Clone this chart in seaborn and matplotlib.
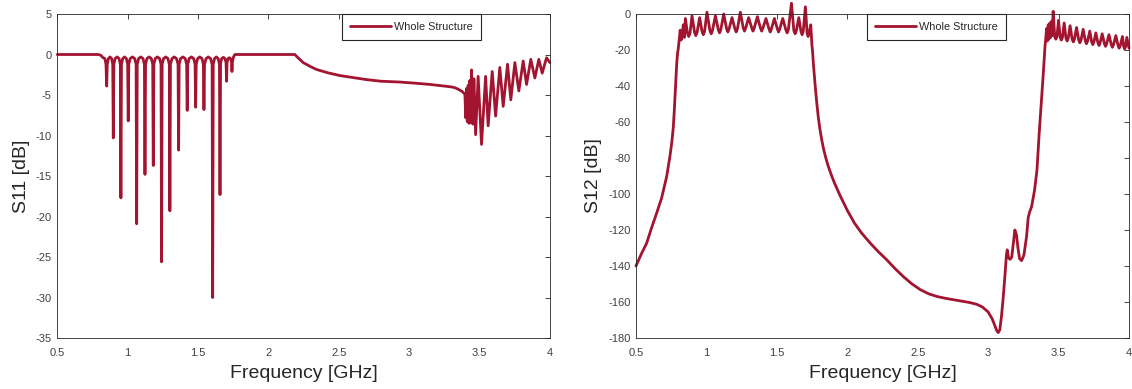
import matplotlib
matplotlib.use("Agg")
import matplotlib.pyplot as plt
import seaborn as sns

# ---------------- data ----------------
x_ticks = [0.5, 1.0, 1.5, 2.0, 2.5, 3.0, 3.5, 4.0]
x_tick_labels = ["0.5", "1", "1.5", "2", "2.5", "3", "3.5", "4"]
s11_ticks = [-35, -30, -25, -20, -15, -10, -5, 0, 5]
s12_ticks = [-180, -160, -140, -120, -100, -80, -60, -40, -20, 0]
series_name = "Whole Structure"

# S11 of the whole structure (frequency in GHz, magnitude in dB)
s11_freq = [
    0.50, 0.79, 0.81, 0.825, 0.838, 0.846,
    0.851, 0.855, 0.863, 0.8745, 0.886, 0.894,
    0.898, 0.902, 0.911, 0.925, 0.939, 0.948,
    0.952, 0.956, 0.965, 0.978, 0.991, 1.000,
    1.004, 1.008, 1.018, 1.034, 1.050, 1.060,
    1.064, 1.068, 1.078, 1.0935, 1.109, 1.119,
    1.123, 1.127, 1.137, 1.1525, 1.168, 1.178,
    1.182, 1.186, 1.196, 1.2115, 1.227, 1.237,
    1.241, 1.245, 1.255, 1.2705, 1.286, 1.296,
    1.300, 1.304, 1.315, 1.331, 1.347, 1.358,
    1.362, 1.366, 1.376, 1.3925, 1.409, 1.419,
    1.423, 1.427, 1.437, 1.453, 1.469, 1.479,
    1.483, 1.487, 1.497, 1.5125, 1.528, 1.538,
    1.542, 1.546, 1.557, 1.573, 1.589, 1.600,
    1.604, 1.608, 1.617, 1.630, 1.643, 1.652,
    1.656, 1.660, 1.668, 1.6795, 1.691, 1.699,
    1.703, 1.706, 1.713, 1.722, 1.731, 1.738,
    1.741, 1.745, 1.752, 1.762,
    2.188, 2.21, 2.247, 2.30, 2.342, 2.42, 2.508, 2.60, 2.697, 2.80,
    2.934, 3.05, 3.15, 3.25, 3.30, 3.325, 3.35, 3.375, 3.396,
    3.402, 3.407, 3.413, 3.419, 3.425, 3.431, 3.437, 3.443, 3.452, 3.460,
    3.472, 3.490, 3.514, 3.543, 3.561, 3.590, 3.614, 3.644, 3.668, 3.699,
    3.722, 3.751, 3.779, 3.810, 3.834, 3.864, 3.893, 3.921, 3.945, 3.976,
    4.0,
]
s11_db = [
    0.0, 0.0, -0.1, -0.4, -0.5, -1.2,
    -3.9, -1.2, -0.5, -0.3, -0.5, -1.2,
    -10.3, -1.2, -0.5, -0.3, -0.5, -1.2,
    -17.7, -1.2, -0.5, -0.3, -0.5, -1.2,
    -8.2, -1.2, -0.5, -0.3, -0.5, -1.2,
    -20.9, -1.2, -0.5, -0.3, -0.5, -1.2,
    -14.8, -1.2, -0.5, -0.3, -0.5, -1.2,
    -13.7, -1.2, -0.5, -0.3, -0.5, -1.2,
    -25.6, -1.2, -0.5, -0.3, -0.5, -1.2,
    -19.3, -1.2, -0.5, -0.3, -0.5, -1.2,
    -11.8, -1.2, -0.5, -0.3, -0.5, -1.2,
    -6.9, -1.2, -0.5, -0.3, -0.5, -1.2,
    -6.5, -1.2, -0.5, -0.3, -0.5, -1.2,
    -6.8, -1.2, -0.5, -0.3, -0.5, -1.2,
    -30.0, -1.2, -0.5, -0.3, -0.5, -1.2,
    -17.3, -1.1, -0.5, -0.35, -0.5, -1.0,
    -3.3, -1.0, -0.5, -0.4, -0.5, -0.9,
    -2.1, -0.8, -0.3, 0.0,
    0.0, -0.4, -1.0, -1.5, -1.85, -2.25, -2.6, -2.85, -3.1, -3.3,
    -3.4, -3.55, -3.7, -3.9, -4.0, -4.1, -4.3, -4.55, -4.9,
    -7.8, -4.2, -8.3, -3.8, -8.5, -3.2, -8.4, -1.9, -8.6, -3.0,
    -9.9, -2.7, -11.1, -2.7, -8.8, -2.1, -7.6, -1.6, -6.4, -1.2,
    -5.6, -1.0, -4.5, -0.8, -3.7, -0.6, -2.9, -0.6, -2.3, -0.4,
    -1.0,
]

# S12 of the whole structure (frequency in GHz, magnitude in dB)
s12_freq = [
    0.50, 0.54, 0.576, 0.61, 0.647, 0.682, 0.718, 0.741,
    0.755, 0.765, 0.772, 0.777, 0.783, 0.789, 0.795, 0.80,
    0.806, 0.814, 0.820, 0.828, 0.836, 0.843,
    0.851, 0.8655, 0.8745, 0.8835,
    0.898, 0.916, 0.925, 0.934,
    0.952, 0.969, 0.978, 0.987,
    1.004, 1.025, 1.034, 1.043,
    1.064, 1.0845, 1.0935, 1.1025,
    1.123, 1.1435, 1.1525, 1.1615,
    1.182, 1.2025, 1.2115, 1.2205,
    1.241, 1.2615, 1.2705, 1.2795,
    1.300, 1.322, 1.331, 1.340,
    1.362, 1.3835, 1.3925, 1.4015,
    1.423, 1.444, 1.453, 1.462,
    1.483, 1.5035, 1.5125, 1.5215,
    1.542, 1.564, 1.573, 1.582,
    1.604, 1.621, 1.630, 1.639,
    1.656, 1.6715, 1.6795, 1.6875,
    1.703, 1.715, 1.722, 1.729,
    1.741, 1.745, 1.749, 1.754, 1.760, 1.771, 1.782, 1.794,
    1.805, 1.818, 1.832, 1.848, 1.865, 1.885, 1.91, 1.95,
    2.0, 2.05, 2.10, 2.16, 2.22, 2.28, 2.34, 2.40,
    2.46, 2.52, 2.58, 2.64, 2.70, 2.76, 2.82, 2.87,
    2.92, 2.96, 3.0, 3.03, 3.05, 3.062, 3.072, 3.083,
    3.095, 3.108, 3.12, 3.13, 3.136, 3.145, 3.156, 3.168,
    3.18, 3.19, 3.202, 3.212, 3.224, 3.238, 3.254, 3.273,
    3.285, 3.295, 3.309, 3.33, 3.347, 3.363, 3.38, 3.392,
    3.404, 3.410, 3.416, 3.421, 3.427, 3.432, 3.438, 3.444, 3.450, 3.455,
    3.462, 3.473, 3.481, 3.489,
    3.500, 3.512, 3.520, 3.528,
    3.540, 3.553, 3.561, 3.569,
    3.582, 3.597, 3.605, 3.613,
    3.628, 3.6435, 3.6515, 3.6595,
    3.675, 3.6905, 3.6985, 3.7065,
    3.722, 3.7355, 3.7435, 3.7515,
    3.765, 3.7795, 3.7875, 3.7955,
    3.810, 3.826, 3.834, 3.842,
    3.858, 3.8745, 3.8825, 3.8905,
    3.907, 3.9225, 3.9305, 3.9385,
    3.954, 3.9625, 3.9695, 3.9765,
    3.985, 4.0,
]
s12_db = [
    -140.0, -133.0, -127.3, -119.0, -110.6, -102.3, -90.3, -79.2,
    -71.0, -63.0, -54.0, -46.0, -36.0, -28.0, -22.0, -19.5,
    -15.0, -9.0, -14.5, -12.5, -6.0, -13.0,
    -2.5, -10.7, -12.5, -10.7,
    -1.0, -10.2, -12.0, -10.2,
    -2.0, -9.7, -11.5, -9.7,
    1.0, -9.2, -11.0, -9.2,
    -1.0, -8.7, -10.5, -8.7,
    0.0, -8.2, -10.0, -8.2,
    -2.0, -8.2, -10.0, -8.2,
    1.0, -7.7, -9.5, -7.7,
    -2.0, -7.7, -9.5, -7.7,
    -1.5, -7.7, -9.5, -7.7,
    -2.5, -8.2, -10.0, -8.2,
    -2.5, -8.2, -10.0, -8.2,
    -2.5, -8.7, -10.5, -8.7,
    6.0, -9.2, -11.0, -9.2,
    -2.0, -9.7, -11.5, -9.7,
    4.0, -10.7, -12.5, -10.7,
    -6.0, -12.0, -17.0, -21.0, -28.0, -38.5, -48.0, -57.0,
    -63.5, -69.5, -75.0, -80.0, -84.5, -89.0, -94.0, -101.0,
    -109.0, -116.0, -121.5, -127.0, -132.0, -136.5, -141.5, -146.0,
    -150.0, -153.2, -155.5, -157.0, -158.0, -158.8, -159.6, -160.3,
    -161.3, -162.8, -165.5, -169.5, -173.5, -176.0, -177.0, -175.5,
    -168.0, -157.0, -145.0, -134.0, -131.0, -135.5, -136.3, -135.0,
    -127.0, -120.0, -122.8, -130.0, -136.0, -137.0, -134.0, -123.7,
    -113.0, -110.0, -107.0, -97.8, -86.7, -66.0, -47.0, -33.0,
    -18.0, -13.0, -8.0, -15.0, -6.0, -14.0, -5.0, -13.0, -4.0, -12.0,
    1.5, -12.5, -14.0, -12.5,
    -3.5, -13.0, -14.5, -13.0,
    -5.0, -13.5, -15.0, -13.5,
    -6.5, -14.0, -15.5, -14.0,
    -7.5, -14.5, -16.0, -14.5,
    -8.5, -15.0, -16.5, -15.0,
    -9.5, -15.5, -17.0, -15.5,
    -10.5, -16.0, -17.5, -16.0,
    -11.0, -16.5, -18.0, -16.5,
    -11.5, -17.0, -18.5, -17.0,
    -12.0, -17.5, -19.0, -17.5,
    -12.5, -18.0, -19.5, -18.0,
    -13.0, -19.0,
]

# ---------------- style ----------------
sns.set_theme(style="white")
plt.rcParams["font.family"] = ["Liberation Sans", "DejaVu Sans"]
plt.rcParams["axes.unicode_minus"] = False

line_color = "#A2142F"
axis_color = "#262626"
label_color = "#404040"

fig = plt.figure(figsize=(11.32, 3.89), dpi=100)
ax1 = fig.add_axes([0.0506, 0.1311, 0.4352, 0.8329])
ax2 = fig.add_axes([0.5618, 0.1311, 0.4355, 0.8329])


def draw_panel(ax, freq, db, yticks, ylabel, legend_x):
    sns.lineplot(x=freq, y=db, ax=ax, color=line_color, linewidth=2.0,
                 label=series_name, sort=False, estimator=None)
    for ln in ax.get_lines():
        ln.set_clip_on(False)
    ax.set_xlim(0.5, 4.0)
    ax.set_ylim(yticks[0], yticks[-1])
    ax.set_xticks(x_ticks)
    ax.set_xticklabels(x_tick_labels)
    ax.set_yticks(yticks)
    ax.set_yticklabels([str(t) for t in yticks])
    ax.tick_params(axis="both", direction="in", length=3.5, width=0.6,
                   top=True, right=True, labelsize=8, labelcolor=label_color,
                   color=axis_color)
    ax.tick_params(axis="x", pad=7)
    ax.tick_params(axis="y", pad=4)
    for sp in ax.spines.values():
        sp.set_visible(True)
        sp.set_color(axis_color)
        sp.set_linewidth(0.6)
    ax.set_xlabel("Frequency [GHz]", fontsize=14, color=axis_color, labelpad=5)
    ax.set_ylabel(ylabel, fontsize=14, color=axis_color, labelpad=4)
    ax.legend(loc="upper left", bbox_to_anchor=(legend_x, 1.0), borderaxespad=0,
              frameon=True, fancybox=False, framealpha=1, edgecolor=axis_color,
              fontsize=7.8, handlelength=3.8, handletextpad=0.3,
              borderpad=0.75)
    ax.get_legend().get_frame().set_linewidth(0.8)


draw_panel(ax1, s11_freq, s11_db, s11_ticks, "S11 [dB]", 0.577)
draw_panel(ax2, s12_freq, s12_db, s12_ticks, "S12 [dB]", 0.468)

fig.savefig("out.png", dpi=100, facecolor="white")
